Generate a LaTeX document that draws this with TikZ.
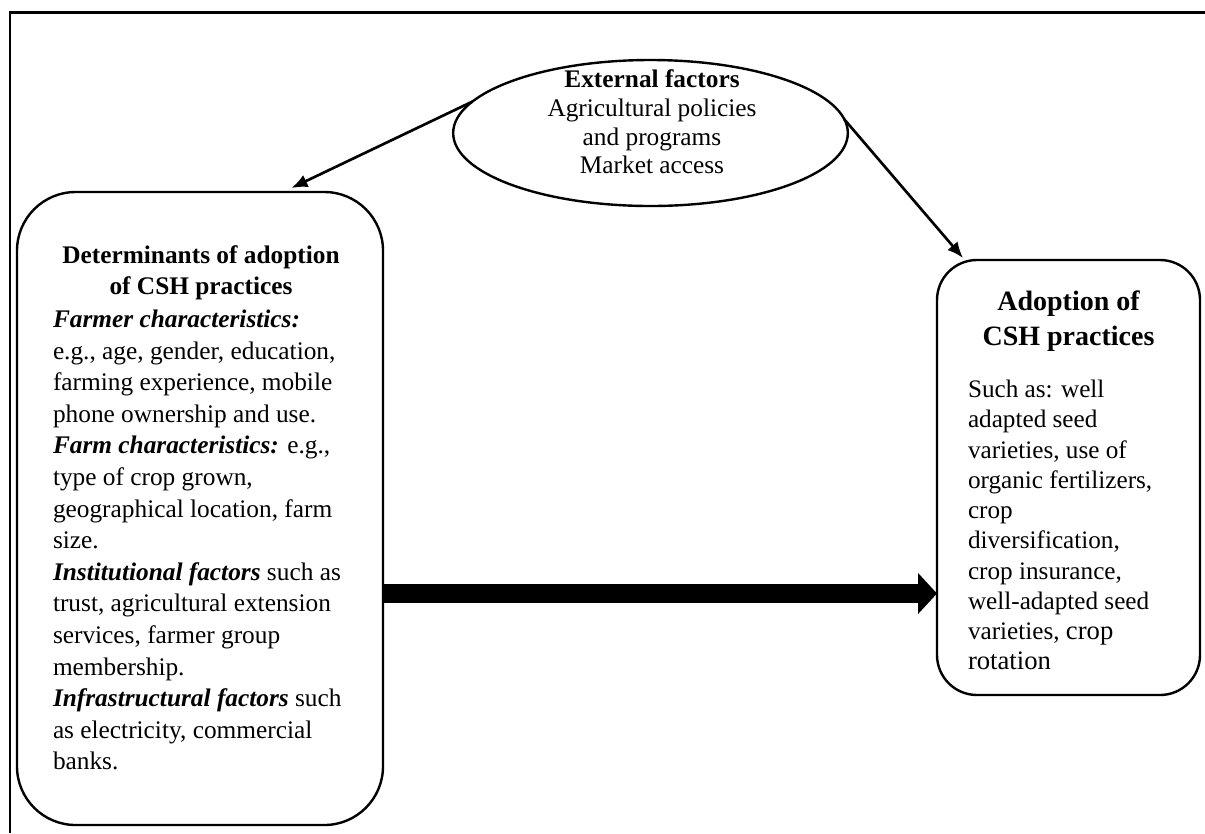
\documentclass[tikz,border=0pt]{standalone}
\usepackage{fontspec}
\setmainfont{Liberation Serif}
\usetikzlibrary{arrows.meta,shapes.geometric,calc}
\begin{document}
\begin{tikzpicture}[x=0.75pt,y=-0.75pt,
  frameline/.style={line width=1.8pt},
  boxshape/.style={draw,line width=1.8pt,inner sep=0pt,outer sep=0pt},
  txt/.style={inner sep=0pt,outer sep=0pt},
  conn/.style={line width=2pt,-{Latex[length=12pt,width=10pt]}},
  bigarrow/.style={line width=14.25pt,-{Triangle[length=14.25pt,width=30pt]}}
]
\useasboundingbox (0,0) rectangle (1205,833);
% outer frame (top and left edges)
\draw[frameline] (10,833) -- (10,12.5) -- (1205,12.5);

% ellipse
\node[boxshape,ellipse,minimum width=296pt,minimum height=109.5pt] (E) at (650.5,133) {};
\node[txt,anchor=north,align=center,font=\fontsize{19}{21.5}\selectfont] (Et) at (652,70)
  {\textbf{External factors}\\Agricultural policies\\and programs\\Market access};

% left box
\node[boxshape,rectangle,rounded corners=44pt,minimum width=274.5pt,minimum height=474.75pt] (L) at (200,508.5) {};
\node[txt,anchor=north,align=center,font=\fontsize{19}{23.7}\selectfont\bfseries] (Lh) at (201,245.5)
  {Determinants of adoption\\of CSH practices};
\node[txt,anchor=north west,align=left,font=\fontsize{19}{23.7}\selectfont] (Lb) at (53,310)
  {\textbf{\textit{Farmer characteristics:}}\\
   e.g., age, gender, education,\\
   farming experience, mobile\\
   phone ownership and use.\\
   \textbf{\textit{Farm characteristics:}} e.g.,\\
   type of crop grown,\\
   geographical location, farm\\
   size.\\
   \textbf{\textit{Institutional factors}} such as\\
   trust, agricultural extension\\
   services, farmer group\\
   membership.\\
   \textbf{\textit{Infrastructural factors}} such\\
   as electricity, commercial\\
   banks.};

% right box
\node[boxshape,rectangle,rounded corners=30pt,minimum width=197.25pt,minimum height=326.25pt] (R) at (1068.5,477.5) {};
\node[txt,anchor=north,align=center,font=\fontsize{21}{26}\selectfont\bfseries] (Rh) at (1068.5,291)
  {Adoption of\\CSH practices};
\node[txt,anchor=north west,align=left,font=\fontsize{18.9}{22.7}\selectfont] (Rb) at (968,380)
  {Such as: well\\
   adapted seed\\
   varieties, use of\\
   organic fertilizers,\\
   crop\\
   diversification,\\
   crop insurance,\\
   well-adapted seed\\
   varieties, {\fontsize{20}{22.7}\selectfont crop}\\
   {\fontsize{20}{22.7}\selectfont rotation}};

% connectors
\coordinate (ya) at (0,593.5);
\draw[conn] (E.170) -- ($(L.north)!0.5!(L.north east)+(0,-4)$);
\draw[conn] (E.4) -- ($(R.north west)+(26,-2)$);
\draw[bigarrow] (L.east |- ya) -- (R.west |- ya);
\end{tikzpicture}
\end{document}
